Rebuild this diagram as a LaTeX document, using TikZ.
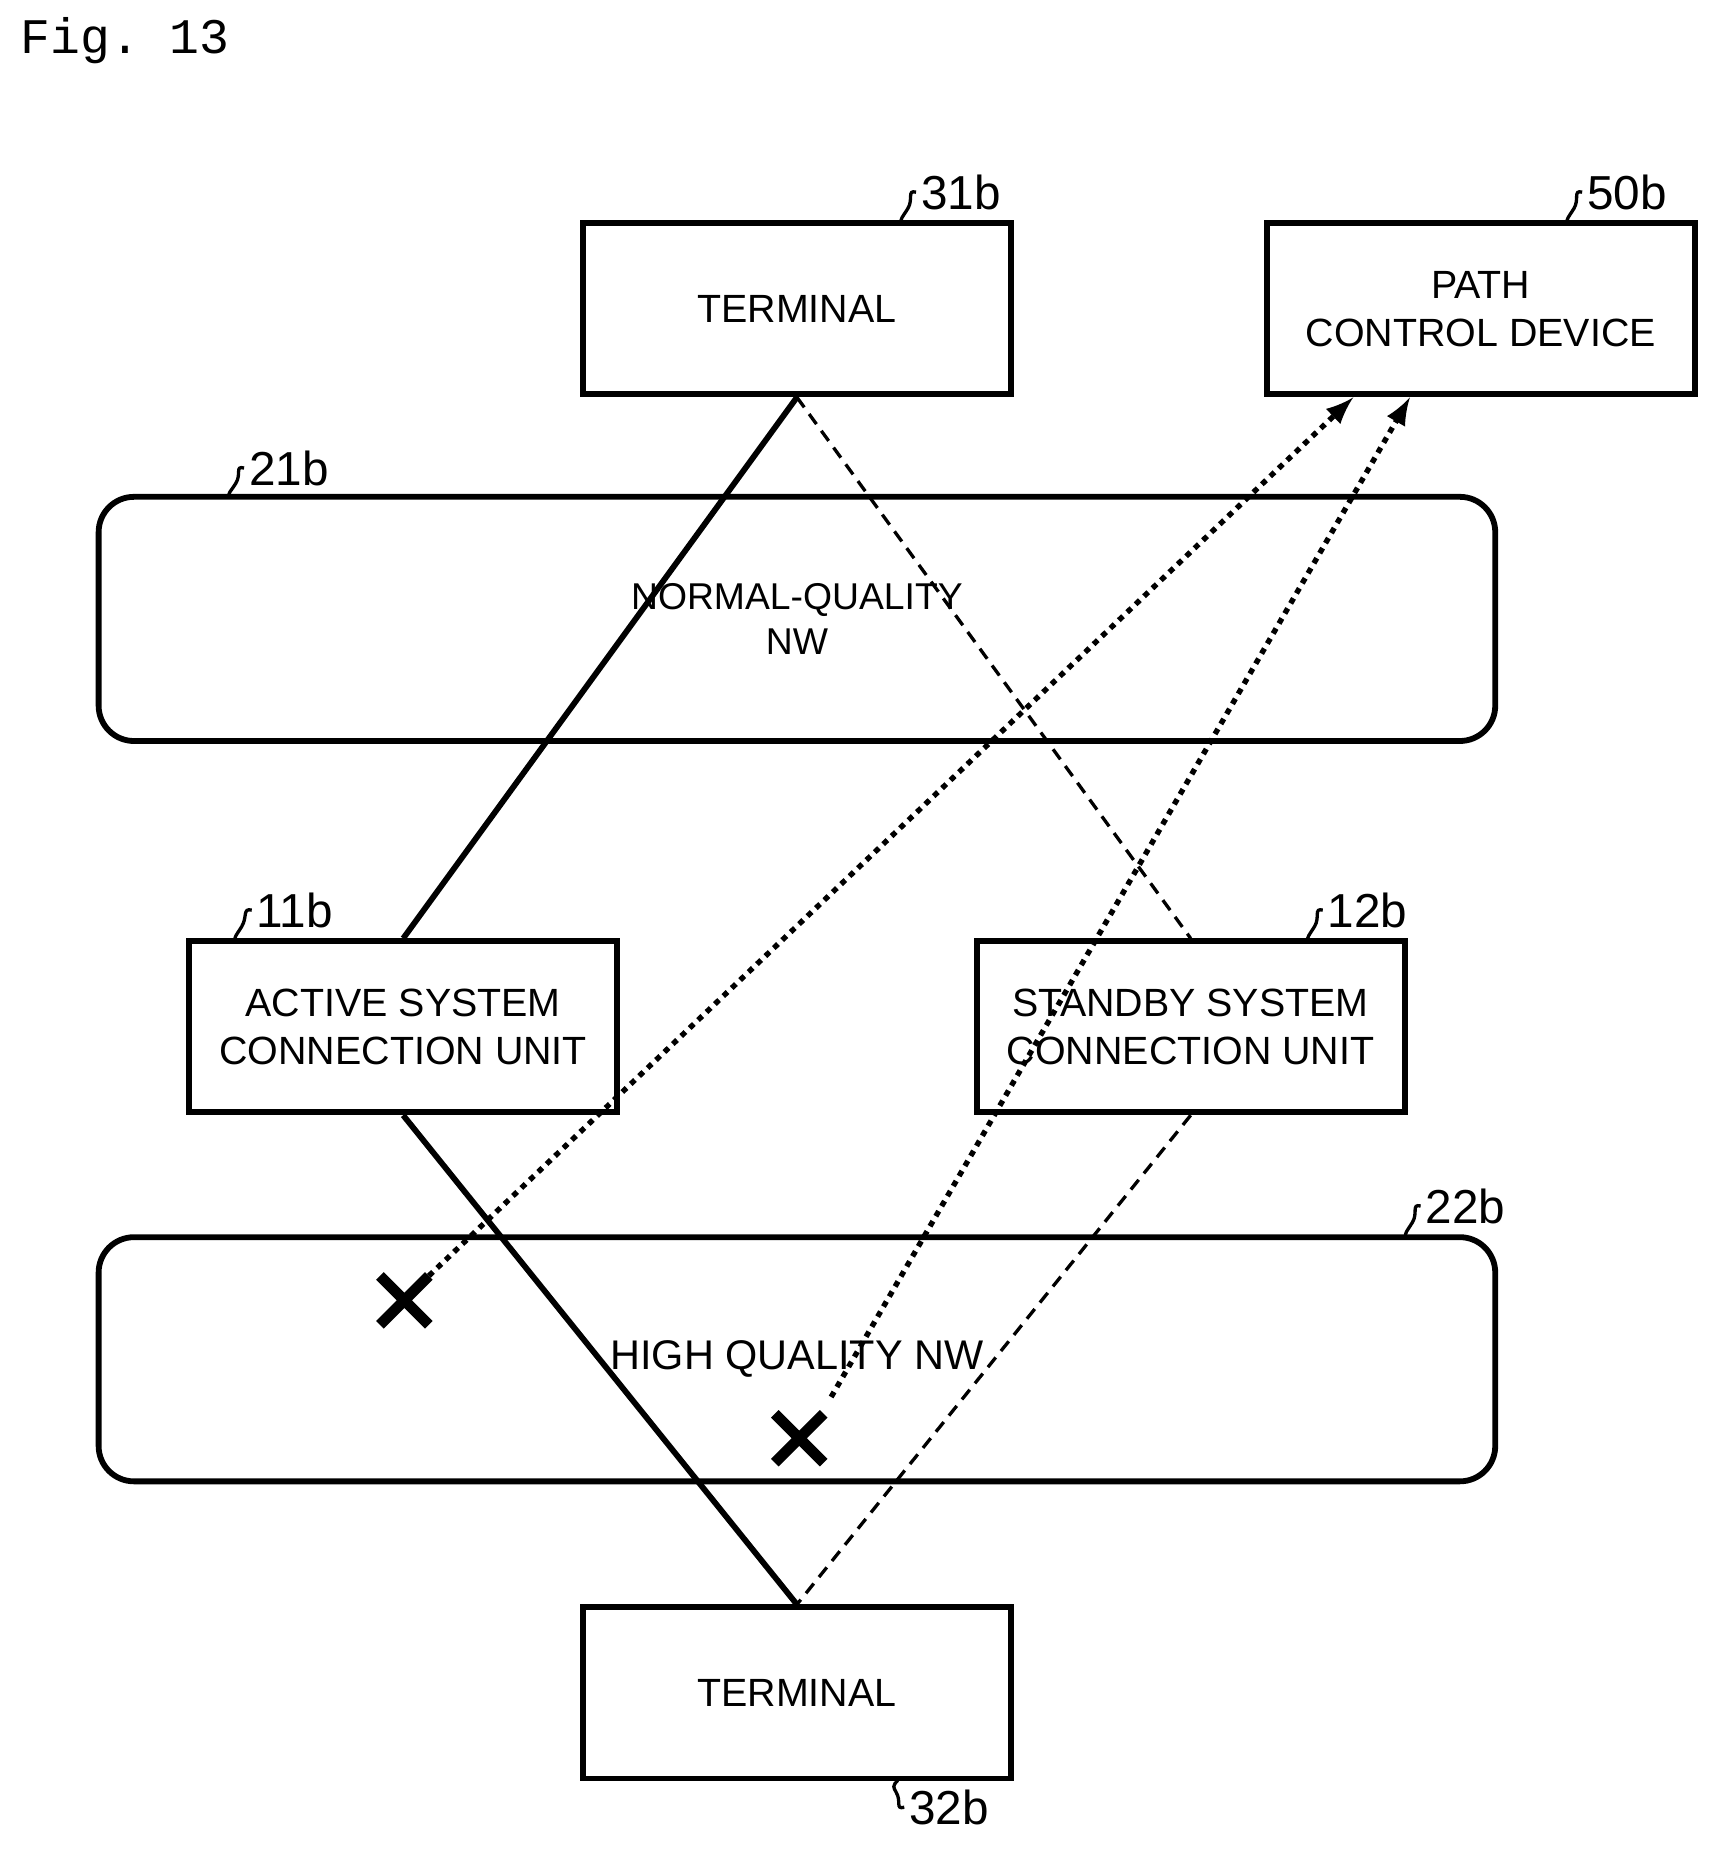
\documentclass[tikz,border=0pt]{standalone}
\usepackage{fontspec}
\setmainfont{Liberation Sans}
\setmonofont{Liberation Mono}
\usetikzlibrary{positioning}
\tikzset{
  box/.style={draw,line width=1.4pt,minimum width=3.63cm,minimum height=1.45cm,align=center,font=\fontsize{9.5}{11.5}\selectfont},
  nw/.style={draw,line width=1.4pt,rounded corners=0.3cm,minimum width=11.84cm,minimum height=2.07cm,align=center,font=\fontsize{9}{11}\selectfont},
  tag/.style={font=\fontsize{11.5}{14}\selectfont,inner sep=1pt},
  cross/.style={inner sep=0pt,minimum size=0.4cm},
  solidln/.style={line width=1.4pt},
  dashln/.style={line width=0.8pt,dash pattern=on 3pt off 2pt},
  dotarr/.style={line width=1.3pt,dash pattern=on 1.4pt off 1.4pt,-latex},
}
\begin{document}
\begin{tikzpicture}[x=0.01cm,y=-0.01cm]
\useasboundingbox (0,0) rectangle (1470,1582);
\node[anchor=north west,font=\ttfamily\fontsize{12}{14}\selectfont] at (5,2) {Fig. 13};

% boxes
\node[box] (term1) at (676,262) {TERMINAL};
\node[box] (pcd) at (1256,262) {PATH\\CONTROL DEVICE};
\node[nw] (nw1) at (676,525) {NORMAL-QUALITY\\NW};
\node[box] (act) at (342,871) {ACTIVE SYSTEM\\CONNECTION UNIT};
\node[box] (stb) at (1010,871) {STANDBY SYSTEM\\CONNECTION UNIT};
\node[nw] (nw2) at (676,1153) {\fontsize{10}{12}\selectfont HIGH QUALITY NW};
\node[box] (term2) at (676,1436) {TERMINAL};

% reference tags
\node[tag] (l31) at (815,163) {31b};
\node[tag] (l50) at (1380,163) {50b};
\node[tag] (l21) at (245,397) {21b};
\node[tag] (l11) at (250,772) {11b};
\node[tag] (l12) at (1160,772) {12b};
\node[tag] (l22) at (1243,1023) {22b};
\node[tag] (l32) at (805,1533) {32b};
\draw[line width=0.8pt] (l31.west) .. controls +(-8,-2) and +(5,-8) .. (770,177) .. controls +(-5,8) and +(0,-5) .. (764,190);
\draw[line width=0.8pt] (l50.west) .. controls +(-8,-2) and +(5,-8) .. (1335,177) .. controls +(-5,8) and +(0,-5) .. (1329,190);
\draw[line width=0.8pt] (l21.west) .. controls +(-8,-2) and +(5,-8) .. (200,410) .. controls +(-5,8) and +(0,-5) .. (194,422);
\draw[line width=0.8pt] (l11.west) .. controls +(-8,-2) and +(5,-8) .. (205,786) .. controls +(-5,8) and +(0,-5) .. (199,799);
\draw[line width=0.8pt] (l12.west) .. controls +(-8,-2) and +(5,-8) .. (1115,786) .. controls +(-5,8) and +(0,-5) .. (1109,799);
\draw[line width=0.8pt] (l22.west) .. controls +(-8,-2) and +(5,-8) .. (1198,1037) .. controls +(-5,8) and +(0,-5) .. (1192,1050);
\draw[line width=0.8pt] (l32.west) .. controls +(-8,2) and +(5,8) .. (760,1520) .. controls +(-5,-8) and +(0,5) .. (762,1508);

% failures
\node[cross] (x1) at (343,1103) {};
\node[cross] (x2) at (678,1220) {};
\foreach \x in {x1,x2}
  \draw[line width=2.6pt] (\x.north west) -- (\x.south east) (\x.north east) -- (\x.south west);
\coordinate (s2) at (705,1185);

% paths
\draw[solidln] (term1.south) -- (act.north);
\draw[solidln] (act.south) -- (term2.north);
\draw[dashln] (term1.south) -- (stb.north);
\draw[dashln] (stb.south) -- (term2.north);
\draw[dotarr] (x1.north east) -- (1148,337);
\draw[dotarr] (s2) -- (1196,337);
\end{tikzpicture}
\end{document}
